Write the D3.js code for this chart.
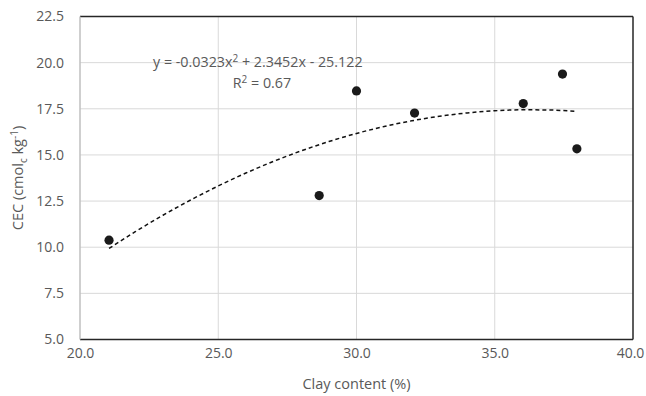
<!DOCTYPE html>
<html>
<head>
<meta charset="utf-8">
<script src="https://cdn.jsdelivr.net/npm/d3@7"></script>
<style>
  body { margin: 0; background: #fff; }
  text { font-family: "Open Sans", sans-serif; fill: #595959; }
</style>
</head>
<body>
<div id="chart"></div>
<script>
// measured points
var clay = [21.05, 28.65, 30.0, 32.1, 36.03, 37.45, 37.97];
var cec  = [10.38, 12.8, 18.47, 17.27, 17.78, 19.38, 15.33];
var xTicks = [20, 25, 30, 35, 40];
var yTicks = [5, 7.5, 10, 12.5, 15, 17.5, 20, 22.5];
// trendline coefficients as printed on the chart (a, b, c)
var coef = [-0.0323, 2.3452, -25.122];
var trendX = [21.05, 22, 23, 24, 25, 26, 27, 28, 29, 30, 31, 32, 33, 34, 35, 36, 37, 37.97];

var W = 646, H = 396;
var margin = { top: 16.5, right: 13, bottom: 56.5, left: 80 };
var width = W - margin.left - margin.right;
var height = H - margin.top - margin.bottom;

var svg = d3.select('#chart').append('svg')
  .attr('width', W)
  .attr('height', H);

var g = svg.append('g')
  .attr('transform', 'translate(' + margin.left + ',' + margin.top + ')');

var x = d3.scaleLinear().domain([20, 40]).range([0, width]);
var y = d3.scaleLinear().domain([5, 22.5]).range([height, 0]);

// grid
g.append('g').selectAll('line.gx').data(xTicks.slice(1, -1))
  .enter().append('line')
  .attr('x1', d => x(d)).attr('x2', d => x(d))
  .attr('y1', 0).attr('y2', height)
  .attr('stroke', '#d9d9d9').attr('stroke-width', 1);
g.append('g').selectAll('line.gy').data(yTicks.slice(1, -1))
  .enter().append('line')
  .attr('x1', 0).attr('x2', width)
  .attr('y1', d => y(d)).attr('y2', d => y(d))
  .attr('stroke', '#d9d9d9').attr('stroke-width', 1);

// border
g.append('line').attr('x1', 0).attr('x2', width).attr('y1', 0).attr('y2', 0)
  .attr('stroke', '#262626').attr('stroke-width', 1.5);
g.append('line').attr('x1', width).attr('x2', width).attr('y1', 0).attr('y2', height)
  .attr('stroke', '#262626').attr('stroke-width', 1.5);
g.append('line').attr('x1', 0).attr('x2', width).attr('y1', height).attr('y2', height)
  .attr('stroke', '#262626').attr('stroke-width', 1.5);
g.append('line').attr('x1', 0).attr('x2', 0).attr('y1', 0).attr('y2', height)
  .attr('stroke', '#bfbfbf').attr('stroke-width', 1.5);

// axes
var xAxis = d3.axisBottom(x).tickValues(xTicks).tickFormat(d3.format('.1f')).tickSize(0).tickPadding(9);
var yAxis = d3.axisLeft(y).tickValues(yTicks).tickFormat(d3.format('.1f')).tickSize(0).tickPadding(16);

var xa = g.append('g').attr('transform', 'translate(0,' + height + ')').call(xAxis);
var ya = g.append('g').call(yAxis);
[xa, ya].forEach(function (a) {
  a.select('.domain').remove();
  a.selectAll('text').style('font-size', '14px').attr('fill', '#595959')
    .style('font-family', '"Open Sans", sans-serif');
});
// keep the last x label inside the page
xa.selectAll('.tick text').filter(d => d === 40).attr('dx', -3);

// trendline
var line = d3.line()
  .x(d => x(d))
  .y(d => y(coef[0] * d * d + coef[1] * d + coef[2]))
  .curve(d3.curveMonotoneX);
g.append('path')
  .datum(trendX)
  .attr('d', line)
  .attr('fill', 'none')
  .attr('stroke', '#111')
  .attr('stroke-width', 1.5)
  .attr('stroke-dasharray', '4,3');

// points
g.append('g').selectAll('circle').data(clay)
  .enter().append('circle')
  .attr('cx', d => x(d))
  .attr('cy', (d, i) => y(cec[i]))
  .attr('r', 4.6)
  .attr('fill', '#1a1a1a');

// equation
var eq = svg.append('text').attr('x', 153).attr('y', 67).style('font-size', '14.3px');
eq.append('tspan').text('y = -0.0323x');
eq.append('tspan').text('2').attr('dy', -5).style('font-size', '10px');
eq.append('tspan').text(' + 2.3452x - 25.122').attr('dy', 5);

var r2 = svg.append('text').attr('x', 262).attr('y', 88).attr('text-anchor', 'middle').style('font-size', '14.3px');
r2.append('tspan').text('R');
r2.append('tspan').text('2').attr('dy', -5).style('font-size', '10px');
r2.append('tspan').text(' = 0.67').attr('dy', 5);

// axis titles
svg.append('text')
  .attr('x', margin.left + width / 2)
  .attr('y', 389)
  .attr('text-anchor', 'middle')
  .style('font-size', '14.5px')
  .text('Clay content (%)');

var yt = svg.append('text')
  .attr('transform', 'translate(23,' + (margin.top + height / 2) + ') rotate(-90)')
  .attr('text-anchor', 'middle')
  .style('font-size', '14.5px');
yt.append('tspan').text('CEC (cmol');
yt.append('tspan').text('c').attr('dy', 4).style('font-size', '10px');
yt.append('tspan').text(' kg').attr('dy', -4);
yt.append('tspan').text('-1').attr('dy', -5).style('font-size', '10px');
yt.append('tspan').text(')').attr('dy', 5);
</script>
</body>
</html>
